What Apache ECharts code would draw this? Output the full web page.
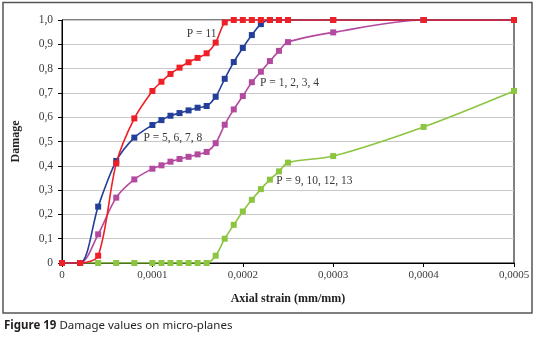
<!DOCTYPE html>
<html>
<head>
<meta charset="utf-8">
<script src="https://cdn.jsdelivr.net/npm/echarts@6/dist/echarts.min.js"></script>
<style>
  html, body { margin: 0; padding: 0; background: #fff; }
  #chart { width: 535px; height: 339px; }
</style>
</head>
<body>
<div id="chart"></div>
<script>
// axial strain (mm/mm) where the damage was sampled
const strain = [0, 0.00002, 0.00004, 0.00006, 0.00008, 0.0001, 0.00011, 0.00012, 0.00013, 0.00014,
  0.00015, 0.00016, 0.00017, 0.00018, 0.00019, 0.0002, 0.00021, 0.00022, 0.00023, 0.00024,
  0.00025, 0.0003, 0.0004, 0.0005];

// damage per micro-plane group
const p11 = [0, 0, 0.03, 0.41, 0.595, 0.708, 0.746, 0.778, 0.804, 0.826,
  0.844, 0.863, 0.907, 0.99, 1, 1, 1, 1, 1, 1,
  1, 1, 1, 1];
const p5678 = [0, 0, 0.232, 0.42, 0.516, 0.568, 0.588, 0.606, 0.617, 0.628,
  0.639, 0.646, 0.684, 0.758, 0.827, 0.885, 0.938, 0.983, 1, 1,
  1, 1, 1, 1];
const p1234 = [0, 0, 0.118, 0.269, 0.344, 0.388, 0.402, 0.417, 0.428, 0.437,
  0.447, 0.457, 0.493, 0.569, 0.632, 0.687, 0.744, 0.787, 0.831, 0.873,
  0.909, 0.949, 1, 1];
const p9101213 = [0, 0, 0, 0, 0, 0, 0, 0, 0, 0,
  0, 0, 0.03, 0.1, 0.157, 0.212, 0.26, 0.304, 0.343, 0.377,
  0.413, 0.44, 0.56, 0.708];

const seriesNames = ['P = 9, 10, 12, 13', 'P = 1, 2, 3, 4', 'P = 5, 6, 7, 8', 'P = 11'];
// where each curve's label sits, in data units
const labelAt = [[0.000236, 0.337], [0.000218, 0.741], [0.000089, 0.514], [0.000172, 0.942]];
const labelSide = ['right', 'right', 'right', 'left'];

const colors = ['#8cc540', '#b44a9f', '#243f99', '#ee1f26'];
const serif = '"Liberation Serif", "DejaVu Serif", serif';
const textColor = '#3a3a3a';

const pairs = (ys) => strain.map((x, i) => [x, ys[i]]);
const decimal = (v, d) => (v === 0 ? '0' : v.toFixed(d).replace('.', ','));

const chart = echarts.init(document.getElementById('chart'));

const series = [p9101213, p1234, p5678, p11].map((ys, i) => ({
  name: seriesNames[i],
  type: 'line',
  data: pairs(ys),
  smooth: 0.3,
  symbol: 'rect',
  symbolSize: 6,
  lineStyle: { width: 1.6, color: colors[i] },
  itemStyle: { color: colors[i] },
  z: 2 + i,
  animation: false,
  markPoint: {
    symbol: 'rect',
    symbolSize: 0,
    silent: true,
    data: [{ coord: labelAt[i] }],
    label: {
      show: true,
      position: labelSide[i],
      distance: 1,
      formatter: seriesNames[i],
      fontFamily: serif,
      fontSize: 11.5,
      color: textColor
    }
  }
}));

chart.setOption({
  backgroundColor: '#fff',
  animation: false,
  grid: {
    left: 62,
    right: 21,
    top: 20,
    bottom: 76,
    show: true,
    borderColor: '#000',
    borderWidth: 1,
    backgroundColor: 'transparent'
  },
  xAxis: {
    type: 'value',
    min: 0,
    max: 0.0005,
    interval: 0.0001,
    name: 'Axial strain (mm/mm)',
    nameLocation: 'middle',
    nameGap: 30,
    nameTextStyle: { fontFamily: serif, fontWeight: 'bold', fontSize: 12, color: '#222' },
    axisLine: { lineStyle: { color: '#000', width: 1 } },
    axisTick: { show: true, length: 4, lineStyle: { color: '#000' } },
    axisLabel: {
      formatter: (v) => decimal(v, 4),
      fontFamily: serif,
      fontSize: 11,
      color: textColor,
      margin: 7
    },
    splitLine: { show: false }
  },
  yAxis: {
    type: 'value',
    min: 0,
    max: 1,
    interval: 0.1,
    name: 'Damage',
    nameLocation: 'middle',
    nameGap: 40,
    nameTextStyle: { fontFamily: serif, fontWeight: 'bold', fontSize: 12, color: '#222' },
    axisLine: { show: true, lineStyle: { color: '#000', width: 1 } },
    axisTick: { show: true, length: 4, lineStyle: { color: '#000' } },
    axisLabel: {
      formatter: (v) => decimal(v, 1),
      fontFamily: serif,
      fontSize: 11.5,
      color: textColor,
      margin: 9
    },
    splitLine: { show: true, lineStyle: { color: '#c8c8c8', width: 1 } }
  },
  graphic: [
    {
      type: 'rect',
      shape: { x: 3, y: 2.5, width: 529, height: 310.5 },
      style: { fill: 'none', stroke: '#555', lineWidth: 1.5 },
      silent: true,
      z: -1
    },
    {
      type: 'text',
      left: 4,
      top: 320,
      style: {
        text: '{b|Figure 19} Damage values on micro-planes',
        fontFamily: '"Noto Sans", "Open Sans", sans-serif',
        fontSize: 11.5,
        fill: '#231f20',
        rich: {
          b: { fontWeight: 'bold', fontFamily: '"Noto Sans", "Open Sans", sans-serif', fontSize: 11.5, fill: '#231f20' }
        }
      }
    }
  ],
  series: series
});
</script>
</body>
</html>
